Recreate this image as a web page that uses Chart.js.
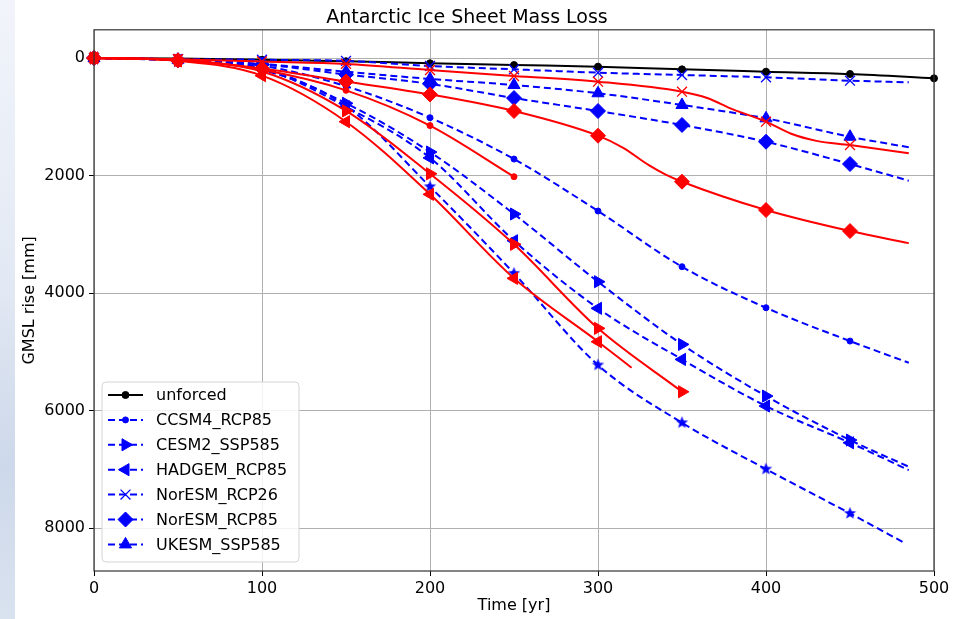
<!DOCTYPE html>
<html>
<head>
<meta charset="utf-8">
<script src="https://cdn.jsdelivr.net/npm/chart.js@4.4.0/dist/chart.umd.min.js"></script>
<style>
  body { margin: 0; background: #fff; }
  #strip { position: absolute; left: 0; top: 0; width: 15px; height: 619px;
           background: linear-gradient(to bottom, #f1f4fa 0%, #e3e9f4 45%, #cdd8ea 75%, #d9e2ef 100%); }
  #wrap { position: absolute; left: 0; top: 0; width: 953px; height: 619px; }
</style>
</head>
<body>
<div id="strip"></div>
<div id="wrap"><canvas id="chartMassLoss" width="953" height="619"></canvas></div>
<script>
// time axes
var timeBlue = [0, 50, 100, 150, 200, 250, 300, 350, 400, 450, 485];
var timeStar = [0, 50, 100, 150, 200, 250, 300, 350, 400, 450, 483];
var timeUnforced = [0, 50, 100, 150, 200, 250, 300, 350, 400, 450, 500];

// GMSL rise [mm]
var unforced  = [0, 10, 30, 55, 90, 120, 147, 193, 233, 272, 346];
var ccsm4     = [0, 30, 130, 480, 1016, 1720, 2604, 3552, 4250, 4817, 5186];
var cesm2     = [0, 40, 170, 770, 1600, 2655, 3807, 4874, 5753, 6502, 6956];
var hadgem    = [0, 40, 180, 830, 1700, 3110, 4260, 5129, 5923, 6548, 7013];
var noresm26  = [0, 20, 30, 50, 136, 193, 250, 289, 329, 386, 414];
var noresm85  = [0, 40, 110, 280, 440, 681, 902, 1140, 1425, 1804, 2088];
var ukesm     = [0, 30, 100, 233, 357, 460, 600, 800, 1027, 1340, 1520];
var starRun   = [0, 40, 200, 820, 2190, 3665, 5225, 6207, 6996, 7750, 8260];

// red runs
var redDotTime = [0, 50, 100, 150, 200, 250];
var redDot     = [0, 30, 200, 550, 1150, 2020];
var redRightTime = [0, 50, 100, 150, 200, 250, 300, 350];
var redRight     = [0, 40, 230, 900, 1970, 3171, 4601, 5680];
var redLeftTime = [0, 50, 100, 150, 200, 250, 300, 320];
var redLeft     = [0, 50, 300, 1084, 2320, 3750, 4828, 5271];
var redXTime = [0, 50, 100, 150, 200, 250, 300, 350, 365, 380, 400, 415, 430, 450, 485];
var redX     = [0, 20, 60, 100, 204, 306, 403, 573, 680, 870, 1084, 1290, 1410, 1481, 1622];
var redDiamondTime = [0, 50, 100, 150, 200, 250, 300, 315, 330, 340, 350, 400, 450, 485];
var redDiamond     = [0, 40, 180, 400, 620, 902, 1322, 1530, 1820, 1980, 2105, 2587, 2945, 3150];

var yTicks = [0, 2000, 4000, 6000, 8000];

Chart.defaults.font.family = "'DejaVu Sans', sans-serif";
Chart.defaults.color = '#000';

function makeStar(color, r) {
    var c = document.createElement('canvas');
    c.width = c.height = Math.ceil(2 * r + 2);
    var g = c.getContext('2d');
    var cx = c.width / 2, cy = c.height / 2;
    g.beginPath();
    for (var i = 0; i < 10; i++) {
        var rr = (i % 2 === 0) ? r : r * 0.42;
        var a = -Math.PI / 2 + i * Math.PI / 5;
        g.lineTo(cx + rr * Math.cos(a), cy + rr * Math.sin(a));
    }
    g.closePath();
    g.fillStyle = color;
    g.fill();
    return c;
}

function pairs(xs, ys) {
    return xs.map(function (x, i) { return {x: x, y: ys[i]}; });
}

function markerRadius(r) {
    return function (ctx) {
        var p = ctx.raw;
        return (p && p.x % 50 === 0) ? r : 0;
    };
}

function series(label, xs, ys, color, style, r, opts) {
    var ds = {
        label: label,
        data: pairs(xs, ys),
        borderColor: color,
        backgroundColor: color,
        borderWidth: 2,
        pointStyle: style,
        pointRadius: markerRadius(r),
        pointBorderWidth: 1,
        pointBorderColor: color,
        pointBackgroundColor: color,
        cubicInterpolationMode: 'monotone',
        clip: false,
        fill: false
    };
    for (var k in opts) ds[k] = opts[k];
    return ds;
}

var BLUE = '#0000ff', RED = '#ff0000';
var dash = {borderDash: [7, 4], order: 2};
var starBlue = makeStar(BLUE, 6.5);

var datasets = [
    series('unforced', timeUnforced, unforced, '#000000', 'circle', 3.5, {order: 3}),
    series('CCSM4_RCP85', timeBlue, ccsm4, BLUE, 'circle', 3, dash),
    series('CESM2_SSP585', timeBlue, cesm2, BLUE, 'triangle', 7, Object.assign({rotation: 90}, dash)),
    series('HADGEM_RCP85', timeBlue, hadgem, BLUE, 'triangle', 7, Object.assign({rotation: -90}, dash)),
    series('NorESM_RCP26', timeBlue, noresm26, BLUE, 'crossRot', 7, Object.assign({pointBorderWidth: 1.3}, dash)),
    series('NorESM_RCP85', timeBlue, noresm85, BLUE, 'rectRot', 7.5, dash),
    series('UKESM_SSP585', timeBlue, ukesm, BLUE, 'triangle', 7, dash),
    series('', timeStar, starRun, BLUE, starBlue, 1, dash),
    series('', redDotTime, redDot, RED, 'circle', 3, {order: 1}),
    series('', redRightTime, redRight, RED, 'triangle', 7, {rotation: 90, order: 1}),
    series('', redLeftTime, redLeft, RED, 'triangle', 7, {rotation: -90, order: 1}),
    series('', redXTime, redX, RED, 'crossRot', 7, {pointBorderWidth: 1.3, order: 1}),
    series('', redDiamondTime, redDiamond, RED, 'rectRot', 7.5, {order: 1})
];

var framePlugin = {
    id: 'frame',
    afterDatasetsDraw: function (chart) {
        var a = chart.chartArea, ctx = chart.ctx;
        ctx.save();
        ctx.strokeStyle = '#333';
        ctx.lineWidth = 1.2;
        ctx.strokeRect(a.left, a.top, a.right - a.left, a.bottom - a.top);
        ctx.restore();
    }
};

var legendPlugin = {
    id: 'boxLegend',
    afterDraw: function (chart) {
        var ctx = chart.ctx;
        var bx = 102, by = 382, bw = 197, bh = 180;
        ctx.save();
        ctx.beginPath();
        ctx.roundRect(bx, by, bw, bh, 4);
        ctx.fillStyle = 'rgba(255,255,255,0.85)';
        ctx.fill();
        ctx.strokeStyle = '#d5d5d5';
        ctx.lineWidth = 1;
        ctx.stroke();
        ctx.font = "16px 'DejaVu Sans'";
        ctx.textBaseline = 'middle';
        for (var i = 0; i < 7; i++) {
            var ds = chart.data.datasets[i];
            var y = 395 + i * 24.9;
            ctx.strokeStyle = ds.borderColor;
            ctx.lineWidth = 2;
            ctx.setLineDash(ds.borderDash || []);
            ctx.beginPath();
            ctx.moveTo(108, y);
            ctx.lineTo(143, y);
            ctx.stroke();
            ctx.setLineDash([]);
            ctx.fillStyle = ds.borderColor;
            ctx.lineWidth = ds.pointBorderWidth;
            var rad = ds.pointRadius({raw: {x: 0}});
            Chart.helpers.drawPoint(ctx, {
                pointStyle: ds.pointStyle, radius: rad, rotation: ds.rotation || 0,
                borderWidth: ds.pointBorderWidth
            }, 125.5, y);
            ctx.fillStyle = '#000';
            ctx.fillText(ds.label, 156, y + 1);
        }
        ctx.restore();
    }
};

new Chart(document.getElementById('chartMassLoss'), {
    type: 'line',
    data: {datasets: datasets},
    options: {
        responsive: false,
        animation: false,
        devicePixelRatio: 1,
        layout: {padding: {left: 0, right: 19, top: 0, bottom: 0}},
        plugins: {
            legend: {display: false},
            tooltip: {enabled: false},
            title: {
                display: true,
                text: 'Antarctic Ice Sheet Mass Loss',
                font: {size: 19, weight: 'normal'},
                color: '#000',
                padding: {top: 7, bottom: 0}
            }
        },
        scales: {
            x: {
                type: 'linear',
                min: 0,
                max: 500,
                ticks: {stepSize: 100, font: {size: 16}, color: '#000', padding: 3},
                grid: {color: '#b0b0b0', tickColor: '#000', tickLength: 5},
                border: {display: false},
                title: {display: true, text: 'Time [yr]', font: {size: 16}, color: '#000', padding: {top: 0, bottom: 4}},
                afterFit: function (s) { s.height = 48; }
            },
            y: {
                type: 'linear',
                reverse: true,
                min: -480,
                max: 8730,
                afterBuildTicks: function (s) {
                    s.ticks = yTicks.map(function (v) { return {value: v}; });
                },
                ticks: {
                    font: {size: 16}, color: '#000', padding: 4,
                    callback: function (v) { return String(v); }
                },
                grid: {color: '#b0b0b0', tickColor: '#000', tickLength: 5},
                border: {display: false},
                title: {display: true, text: 'GMSL rise [mm]', font: {size: 16}, color: '#000', padding: {top: 20, bottom: 0}},
                afterFit: function (s) { s.width = 94; }
            }
        }
    },
    plugins: [framePlugin, legendPlugin]
});
</script>
</body>
</html>
